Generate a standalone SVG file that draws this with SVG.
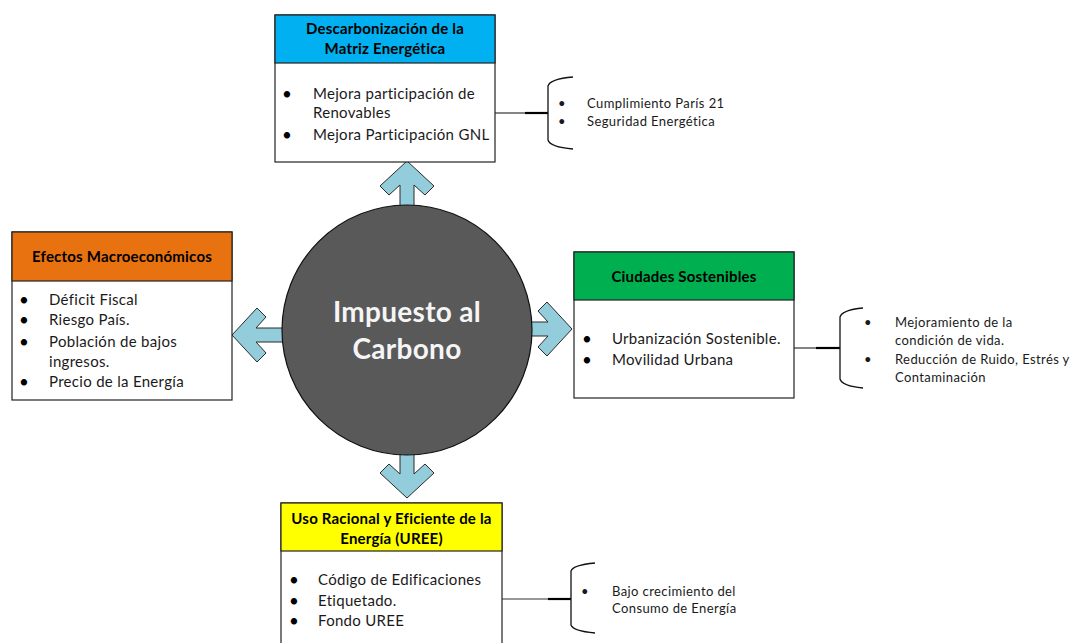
<svg xmlns="http://www.w3.org/2000/svg" width="1073" height="643" viewBox="0 0 1073 643">
<defs>
<style>
.box{fill:#fff;stroke:#222;stroke-width:1.2}
.hdr{stroke:#222;stroke-width:1.2}
.t{font-family:Lato,"Liberation Sans",sans-serif;font-size:15px;letter-spacing:0.3px;fill:#1a1a1a}
.h{font-family:Lato,"Liberation Sans",sans-serif;font-size:15px;letter-spacing:0.2px;font-weight:bold;fill:#000;text-anchor:middle}
.s{font-family:Lato,"Liberation Sans",sans-serif;font-size:13px;letter-spacing:0.4px;fill:#1a1a1a}
.b{font-family:Lato,"Liberation Sans",sans-serif;font-size:17px;fill:#000}
.c{font-family:Lato,"Liberation Sans",sans-serif;font-size:28px;letter-spacing:0.3px;font-weight:bold;fill:#f5f5f5;text-anchor:middle}
.arr{fill:#93CDDC;stroke:#2b2b2b;stroke-width:1}
.brace{fill:none;stroke:#111;stroke-width:1.3}
.thin{stroke:#333;stroke-width:1.2}
.thick{stroke:#000;stroke-width:2.2}
</style>
<path id="arrow" d="M0,0 L27,25 L18,34 L7,24 L7,62 L-7,62 L-7,24 L-18,34 L-27,25 Z"/>
</defs>
<rect width="1073" height="643" fill="#fff"/>

<g id="connectors">
<use href="#arrow" class="arr" transform="translate(407,161)"/>
<use href="#arrow" class="arr" transform="translate(407,498) rotate(180)"/>
<use href="#arrow" class="arr" transform="translate(232,335) rotate(-90)"/>
<use href="#arrow" class="arr" transform="translate(572,329) rotate(90)"/>
<line class="thin" x1="495" y1="113" x2="526" y2="113"/>
<line class="thick" x1="525" y1="113" x2="548" y2="113"/>
<line class="thin" x1="794" y1="348" x2="817" y2="348"/>
<line class="thick" x1="816" y1="348" x2="840" y2="348"/>
<line class="thin" x1="502" y1="599" x2="549" y2="599"/>
<line class="thick" x1="548" y1="599" x2="571" y2="599"/>
</g>

<g id="center">
<circle cx="407" cy="330" r="125" fill="#595959" stroke="#111" stroke-width="1.2"/>
<text class="c" x="407" y="322">Impuesto al</text>
<text class="c" x="407" y="359">Carbono</text>
</g>

<g id="node-descarbonizacion">
<rect class="box" x="275" y="15" width="220" height="147"/>
<rect class="hdr" x="275" y="15" width="220" height="48" fill="#00B0F0"/>
<text class="h" x="385" y="34">Descarbonización de la</text>
<text class="h" x="385" y="54">Matriz Energética</text>
<text class="b" x="282" y="100">•</text>
<text class="t" x="313" y="99">Mejora participación de</text>
<text class="t" x="313" y="118">Renovables</text>
<text class="b" x="282" y="141">•</text>
<text class="t" x="313" y="140">Mejora Participación GNL</text>
</g>

<g id="node-descarbonizacion-resultados">
<path class="brace" d="M573,77 Q550,79 548,86 V140 Q550,147 573,149"/>
<text class="s" x="558" y="108">•</text>
<text class="s" x="587" y="108">Cumplimiento París 21</text>
<text class="s" x="558" y="126">•</text>
<text class="s" x="587" y="126">Seguridad Energética</text>
</g>

<g id="node-efectos">
<rect class="box" x="12" y="232" width="220" height="168"/>
<rect class="hdr" x="12" y="232" width="220" height="49" fill="#E8720F"/>
<text class="h" x="122" y="262">Efectos Macroeconómicos</text>
<text class="b" x="19" y="306">•</text>
<text class="t" x="49" y="305">Déficit Fiscal</text>
<text class="b" x="19" y="326">•</text>
<text class="t" x="49" y="325">Riesgo País.</text>
<text class="b" x="19" y="348">•</text>
<text class="t" x="49" y="347">Población de bajos</text>
<text class="t" x="49" y="367">ingresos.</text>
<text class="b" x="19" y="388">•</text>
<text class="t" x="49" y="387">Precio de la Energía</text>
</g>

<g id="node-ciudades">
<rect class="box" x="574" y="252" width="220" height="146"/>
<rect class="hdr" x="574" y="252" width="220" height="48" fill="#00B050"/>
<text class="h" x="684" y="282">Ciudades Sostenibles</text>
<text class="b" x="582" y="345">•</text>
<text class="t" x="612" y="344">Urbanización Sostenible.</text>
<text class="b" x="582" y="366">•</text>
<text class="t" x="612" y="365">Movilidad Urbana</text>
</g>

<g id="node-ciudades-resultados">
<path class="brace" d="M863,308 Q842,310 840,317 V379 Q842,386 863,388"/>
<text class="s" x="864" y="327">•</text>
<text class="s" x="895" y="327">Mejoramiento de la</text>
<text class="s" x="895" y="345">condición de vida.</text>
<text class="s" x="864" y="364">•</text>
<text class="s" x="895" y="364">Reducción de Ruido, Estrés y</text>
<text class="s" x="895" y="382">Contaminación</text>
</g>

<g id="node-uree">
<rect class="box" x="281" y="503" width="221" height="150"/>
<rect class="hdr" x="281" y="503" width="221" height="48" fill="#FFFF00"/>
<text class="h" x="391.5" y="524">Uso Racional y Eficiente de la</text>
<text class="h" x="391.5" y="544">Energía (UREE)</text>
<text class="b" x="289" y="586">•</text>
<text class="t" x="318" y="585">Código de Edificaciones</text>
<text class="b" x="289" y="607">•</text>
<text class="t" x="318" y="606">Etiquetado.</text>
<text class="b" x="289" y="627">•</text>
<text class="t" x="318" y="626">Fondo UREE</text>
</g>

<g id="node-uree-resultados">
<path class="brace" d="M595,563 Q573,565 571,571 V625 Q573,631 595,633"/>
<text class="s" x="581" y="596">•</text>
<text class="s" x="612" y="596">Bajo crecimiento del</text>
<text class="s" x="612" y="613">Consumo de Energía</text>
</g>
</svg>
